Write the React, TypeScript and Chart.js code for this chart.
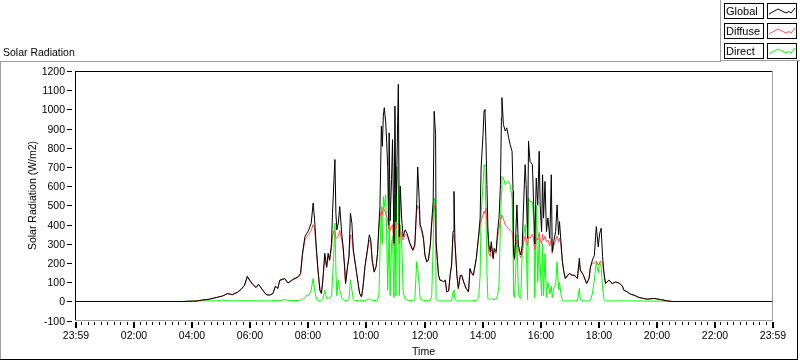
import { useEffect, useRef } from "react";
import { Chart, registerables } from "chart.js";

Chart.register(...registerables);

// ---- data (minutes after midnight, W/m2) ----
const minutes = [
  0, 225, 232, 250, 261, 278, 292, 305, 315, 325, 336, 343, 350, 356, 361, 367, 374, 379, 388, 395,
  402, 409, 414, 419, 423, 433, 440, 450, 461, 466, 470, 475, 479, 483, 488, 492, 495, 499, 502, 506,
  509, 512, 516, 520, 523, 526, 530, 532, 535, 537, 539, 541, 544, 547, 551, 554, 557, 559, 563, 566,
  569, 572, 575, 578, 582, 585, 588, 592, 595, 599, 604, 608, 611, 614, 618, 622, 625, 628, 630, 633,
  635, 637, 639, 642, 644, 646, 648, 649, 651, 654, 656, 659, 661, 663, 665, 668, 670, 672, 675, 678,
  682, 686, 692, 698, 702, 706, 708, 711, 713, 716, 720, 723, 727, 730, 734, 737, 740, 742, 745, 746,
  749, 751, 754, 758, 761, 765, 768, 772, 775, 778, 781, 783, 785, 789, 792, 796, 799, 803, 808, 813,
  816, 819, 823, 829, 834, 837, 839, 843, 845, 847, 849, 851, 853, 855, 858, 860, 864, 866, 870, 873,
  876, 879, 881, 882, 885, 889, 892, 896, 899, 903, 905, 906, 908, 910, 913, 916, 919, 921, 924, 927,
  930, 932, 935, 937, 940, 945, 948, 950, 953, 956, 959, 961, 964, 966, 968, 971, 974, 977, 981, 984,
  986, 989, 993, 996, 999, 1001, 1004, 1007, 1010, 1013, 1018, 1022, 1027, 1032, 1038, 1042, 1044, 1050, 1057, 1062,
  1065, 1069, 1073, 1077, 1081, 1084, 1087, 1090, 1093, 1096, 1103, 1110, 1117, 1125, 1131, 1134, 1141, 1148, 1155, 1165,
  1182, 1196, 1210, 1224, 1234, 1440,
];

const globalWm2 = [
  0, 0, 1, 2, 7, 12, 21, 29, 42, 36, 49, 63, 84, 132, 111, 90, 73, 90, 59, 36,
  33, 42, 80, 68, 111, 120, 97, 115, 129, 146, 251, 338, 355, 373, 408, 512, 425, 268, 164, 59,
  42, 111, 251, 181, 251, 216, 303, 460, 634, 739, 460, 373, 408, 494, 355, 285, 181, 94, 181, 233,
  460, 408, 268, 216, 146, 94, 42, 24, 76, 181, 268, 347, 320, 216, 155, 181, 251, 408, 494, 913,
  808, 965, 1009, 930, 826, 704, 400, 878, 420, 634, 843, 303, 1017, 416, 704, 1131, 338, 600, 425, 338,
  373, 355, 303, 268, 294, 512, 700, 540, 399, 381, 329, 242, 207, 216, 294, 416, 521, 990, 869, 311,
  207, 137, 111, 110, 102, 111, 50, 55, 137, 190, 364, 573, 311, 137, 68, 137, 137, 102, 68, 50,
  172, 150, 137, 225, 347, 434, 695, 869, 991, 1000, 834, 608, 381, 294, 259, 311, 225, 277, 259, 364,
  434, 608, 957, 1061, 922, 887, 904, 852, 817, 782, 573, 259, 225, 311, 503, 294, 259, 242, 294, 521,
  712, 608, 329, 834, 730, 712, 468, 300, 643, 503, 782, 503, 364, 660, 434, 625, 364, 434, 329, 660,
  259, 311, 364, 503, 347, 416, 311, 207, 155, 120, 137, 146, 137, 137, 120, 225, 164, 140, 94, 120,
  181, 216, 240, 390, 285, 355, 381, 233, 146, 94, 111, 94, 102, 95, 80, 59, 50, 38, 33, 21,
  12, 16, 10, 3, 0, 0,
];

const diffuseWm2 = [
  0, 0, 1, 2, 7, 12, 20, 28, 40, 35, 48, 62, 82, 125, 108, 88, 72, 88, 58, 35,
  33, 41, 78, 67, 108, 118, 95, 112, 125, 140, 240, 320, 335, 350, 370, 400, 380, 250, 160, 58,
  42, 105, 230, 175, 240, 210, 280, 340, 370, 360, 330, 330, 340, 370, 320, 270, 178, 93, 178, 228,
  347, 340, 260, 212, 144, 93, 42, 24, 75, 178, 262, 320, 310, 212, 152, 178, 245, 380, 440, 470,
  450, 490, 480, 460, 440, 430, 380, 420, 370, 390, 400, 290, 420, 380, 400, 410, 300, 370, 350, 320,
  350, 345, 298, 264, 288, 470, 500, 480, 380, 370, 322, 238, 204, 212, 286, 400, 470, 503, 480, 300,
  204, 135, 110, 109, 101, 110, 50, 55, 135, 185, 340, 350, 300, 135, 68, 135, 135, 101, 68, 50,
  168, 148, 135, 218, 330, 400, 420, 450, 470, 460, 486, 420, 330, 250, 235, 290, 220, 265, 250, 330,
  380, 420, 440, 450, 430, 400, 390, 380, 370, 360, 320, 240, 215, 290, 320, 270, 240, 228, 250, 311,
  340, 330, 290, 340, 330, 350, 320, 270, 330, 320, 360, 320, 300, 350, 320, 340, 310, 320, 290, 330,
  250, 290, 320, 340, 310, 330, 290, 204, 153, 119, 135, 144, 135, 135, 118, 205, 160, 138, 93, 118,
  178, 200, 200, 210, 190, 200, 210, 200, 140, 93, 110, 93, 101, 94, 79, 58, 50, 38, 33, 21,
  12, 16, 10, 3, 0, 0,
];

const directWm2 = [
  0, 0, 2, 2, 3, 3, 3, 8, 4, 3, 4, 4, 4, 5, 4, 4, 4, 4, 3, 3,
  3, 4, 5, 4, 5, 10, 6, 5, 5, 8, 10, 20, 33, 30, 60, 120, 59, 12, 5, 3,
  3, 10, 59, 15, 20, 15, 30, 111, 268, 408, 164, 30, 111, 60, 20, 10, 5, 4, 5, 10,
  111, 60, 10, 5, 5, 4, 4, 4, 4, 5, 10, 13, 12, 5, 5, 5, 10, 35, 251, 494,
  300, 547, 494, 556, 338, 59, 268, 416, 30, 303, 338, 20, 556, 30, 704, 591, 30, 399, 300, 50,
  12, 8, 6, 5, 8, 207, 172, 85, 20, 8, 6, 5, 4, 4, 6, 30, 300, 538, 364, 10,
  4, 3, 3, 3, 3, 3, 3, 3, 3, 10, 50, 60, 10, 3, 3, 3, 3, 3, 3, 3,
  3, 3, 4, 6, 20, 137, 451, 608, 712, 704, 469, 155, 15, 12, 12, 15, 10, 10, 12, 30,
  85, 399, 573, 651, 643, 608, 620, 625, 608, 538, 300, 33, 20, 120, 347, 40, 20, 15, 259, 347,
  400, 300, 10, 538, 521, 520, 420, 20, 500, 100, 329, 200, 30, 300, 30, 250, 20, 100, 40, 80,
  20, 70, 85, 207, 60, 100, 40, 5, 3, 3, 3, 3, 3, 3, 3, 68, 10, 3, 3, 3,
  7, 42, 111, 207, 150, 207, 180, 70, 10, 3, 3, 3, 3, 3, 3, 3, 3, 3, 3, 3,
  2, 2, 2, 1, 0, 0,
];

const seriesNames = ["Global", "Diffuse", "Direct"];
const seriesColors = ["#000000", "#ff5050", "#00ff00"];

const yTickValues = [-100, 0, 100, 200, 300, 400, 500, 600, 700, 800, 900, 1000, 1100, 1200];
const xTickMinutes = [0, 120, 240, 360, 480, 600, 720, 840, 960, 1080, 1200, 1320, 1440];
const xTickLabels = ["23:59", "02:00", "04:00", "06:00", "08:00", "10:00", "12:00", "14:00", "16:00", "18:00", "20:00", "22:00", "23:59"];
const chartTitle = "Solar Radiation";
const yAxisTitle = "Solar Radiation (W/m2)";
const xAxisTitle = "Time";
const minorPerMajor = 9;

const FONT = '10.5px "Liberation Sans", Arial, sans-serif';
const LEGEND_FONT = '11px "Liberation Sans", Arial, sans-serif';

const decor = {
  id: "decor",
  beforeDraw(chart: any) {
    const ctx = chart.ctx;
    ctx.save();
    ctx.fillStyle = "#ffffff";
    ctx.fillRect(0, 0, chart.width, chart.height);
    ctx.restore();
  },
  afterDraw(chart: any) {
    const ctx: CanvasRenderingContext2D = chart.ctx;
    const a = chart.chartArea;
    const xs = chart.scales.x;
    const ys = chart.scales.y;
    const L = Math.round(a.left);
    const R = Math.round(a.right);
    const T = Math.round(a.top);
    const B = Math.floor(a.bottom);
    ctx.save();

    // outer panel frame
    ctx.fillStyle = "#a0a0a0";
    ctx.fillRect(0, 61, 721, 1);
    ctx.fillRect(0, 61, 1, 298);
    ctx.fillStyle = "#000000";
    ctx.fillRect(0, 359, 798, 1);
    ctx.fillRect(797, 61, 1, 299);

    // legend panel edges
    ctx.fillStyle = "#a0a0a0";
    ctx.fillRect(720, 0, 1, 61);
    ctx.fillRect(720, 60, 80, 1);

    // plot frame
    ctx.fillStyle = "#000000";
    ctx.fillRect(L, T, R - L, 1);
    ctx.fillRect(L, T, 1, B - T + 1);
    ctx.fillStyle = "#a0a0a0";
    ctx.fillRect(R, T, 1, B - T + 1);
    ctx.fillRect(L, B, R - L + 1, 1);

    // title
    ctx.fillStyle = "#000000";
    ctx.font = FONT;
    ctx.textBaseline = "middle";
    ctx.textAlign = "left";
    ctx.fillText(chartTitle, 3, 53);

    // y ticks + labels
    ctx.textAlign = "right";
    for (const v of yTickValues) {
      const py = Math.round(ys.getPixelForValue(v));
      ctx.fillRect(L - 8, py, 5, 1);
      ctx.fillText(String(v), L - 10, py + 1.5);
    }

    // x ticks
    const step = (xTickMinutes[1] - xTickMinutes[0]) / minorPerMajor;
    const nMinor = Math.round((xTickMinutes[xTickMinutes.length - 1] - xTickMinutes[0]) / step);
    for (let k = 0; k <= nMinor; k++) {
      if (k % minorPerMajor === 0) continue;
      const px = Math.round(xs.getPixelForValue(xTickMinutes[0] + k * step));
      ctx.fillRect(px, B + 2, 1, 3);
    }
    ctx.textAlign = "center";
    xTickMinutes.forEach((m, i) => {
      const px = Math.round(xs.getPixelForValue(m));
      ctx.fillRect(px, B + 2, 2, 6);
      ctx.fillText(xTickLabels[i], px + 1, B + 16);
    });

    // axis titles
    ctx.fillText(xAxisTitle, (L + R) / 2, 352);
    ctx.save();
    ctx.translate(33, (T + B) / 2);
    ctx.rotate(-Math.PI / 2);
    ctx.fillText(yAxisTitle, 0, 0);
    ctx.restore();

    // legend
    ctx.font = LEGEND_FONT;
    seriesNames.forEach((name, i) => {
      const top = 3 + i * 20;
      ctx.strokeStyle = "#000000";
      ctx.lineWidth = 1;
      ctx.strokeRect(724.5, top + 0.5, 39, 15);
      ctx.strokeRect(767.5, top + 0.5, 29, 15);
      ctx.fillStyle = "#000000";
      ctx.textAlign = "left";
      ctx.fillText(name, 726, top + 8.5);
      ctx.strokeStyle = seriesColors[i];
      ctx.beginPath();
      ctx.moveTo(769, top + 11);
      ctx.lineTo(778, top + 6);
      ctx.lineTo(786, top + 10);
      ctx.lineTo(789, top + 8.5);
      ctx.lineTo(791, top + 10);
      ctx.lineTo(795, top + 5);
      ctx.stroke();
    });

    ctx.restore();
  },
};

export default function App() {
  const ref = useRef<HTMLCanvasElement>(null);
  useEffect(() => {
    const canvas = ref.current;
    if (!canvas) return;
    const mk = (vals: number[]) => minutes.map((t, i) => ({ x: t, y: vals[i] }));
    const seriesValues = [globalWm2, diffuseWm2, directWm2];
    const chart = new Chart(canvas, {
      type: "line",
      data: {
        datasets: seriesNames.map((name, i) => ({
          label: name,
          data: mk(seriesValues[i]),
          borderColor: seriesColors[i],
          backgroundColor: seriesColors[i],
          borderWidth: 1,
          pointRadius: 0,
          tension: 0,
          fill: false,
        })),
      },
      options: {
        animation: false,
        responsive: false,
        devicePixelRatio: 1,
        events: [],
        layout: { padding: { left: 75, top: 71, right: 28, bottom: 40.3 } },
        plugins: {
          legend: { display: false },
          tooltip: { enabled: false },
          title: { display: false },
        },
        scales: {
          x: { type: "linear", min: 0, max: 1440, display: false },
          y: { type: "linear", min: -100, max: 1200, display: false },
        },
      },
      plugins: [decor],
    } as any);
    return () => chart.destroy();
  }, []);
  return (
    <div style={{ position: "absolute", left: 0, top: 0, width: 800, height: 361 }}>
      <canvas ref={ref} width={800} height={361} style={{ display: "block", width: 800, height: 361 }} />
    </div>
  );
}
